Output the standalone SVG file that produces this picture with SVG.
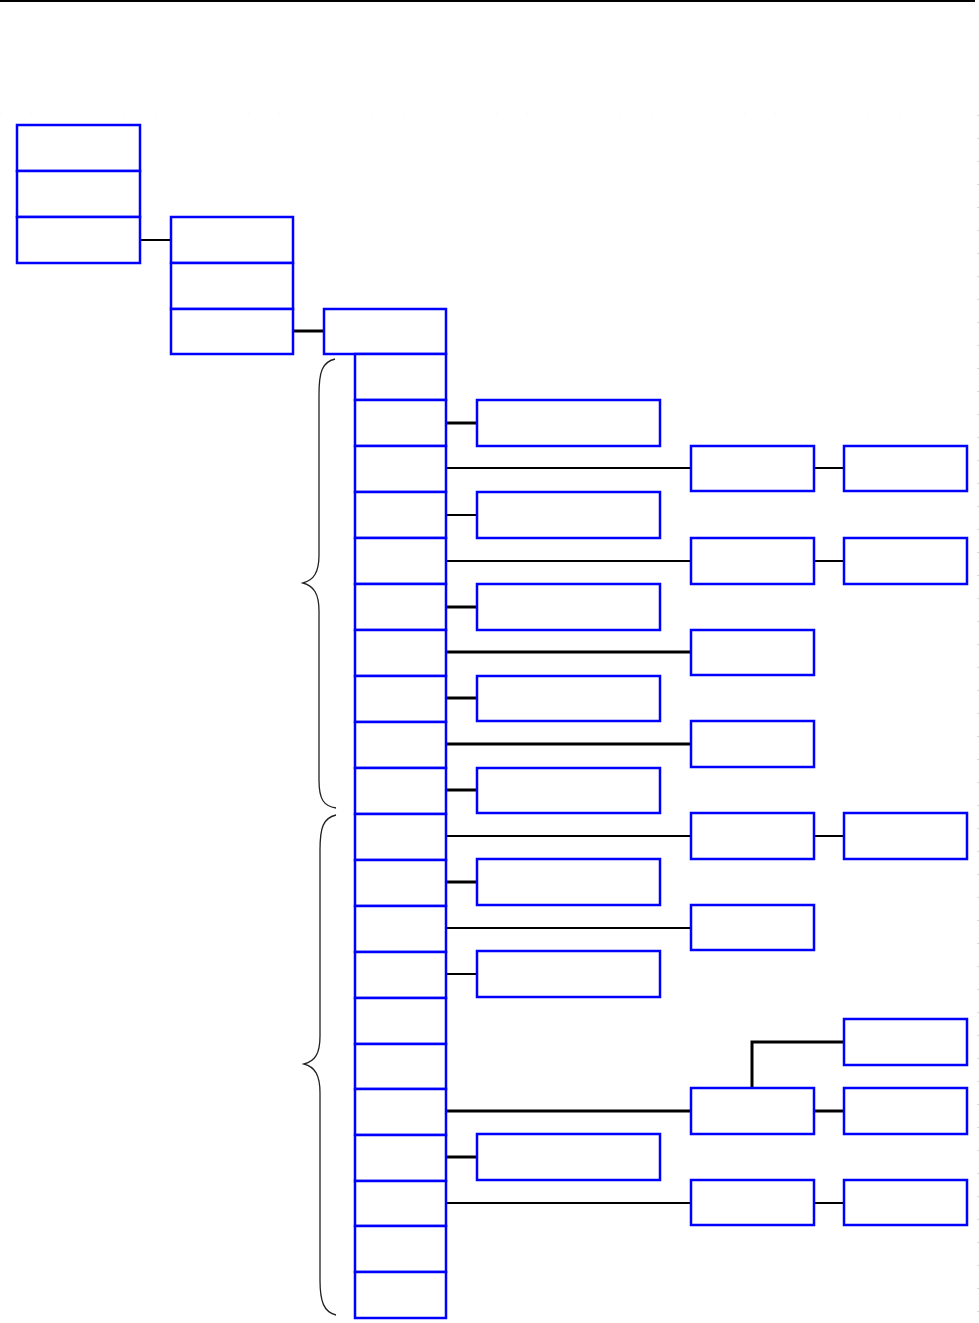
<svg xmlns="http://www.w3.org/2000/svg" width="979" height="1323" viewBox="0 0 979 1323">
<style>
.b{fill:#fff;stroke:#0000ff;stroke-width:2.5}
.c{fill:none;stroke:#000;stroke-width:2}
.t{fill:none;stroke:#000;stroke-width:3}
.br{fill:none;stroke:#222;stroke-width:1.3}
</style>
<rect width="979" height="1323" fill="#fff"/>
<line x1="0" y1="1" x2="975" y2="1" stroke="#000" stroke-width="2"/>
<line x1="0" y1="114" x2="979" y2="114" stroke="#f3f3f3" stroke-width="1" stroke-dasharray="1 30"/>
<line x1="978" y1="115" x2="978" y2="1323" stroke="#bbb" stroke-width="1" stroke-dasharray="1 22"/>
<g id="connectors">
<line class="c" x1="140" y1="240" x2="171" y2="240"/>
<line class="t" x1="293" y1="331" x2="324" y2="331"/>
<line class="t" x1="446" y1="423" x2="477" y2="423"/>
<line class="c" x1="446" y1="468" x2="691" y2="468"/>
<line class="c" x1="814" y1="468" x2="844" y2="468"/>
<line class="c" x1="446" y1="515" x2="477" y2="515"/>
<line class="c" x1="446" y1="561" x2="691" y2="561"/>
<line class="c" x1="814" y1="561" x2="844" y2="561"/>
<line class="t" x1="446" y1="607" x2="477" y2="607"/>
<line class="t" x1="446" y1="652" x2="691" y2="652"/>
<line class="t" x1="446" y1="698" x2="477" y2="698"/>
<line class="t" x1="446" y1="744" x2="691" y2="744"/>
<line class="t" x1="446" y1="790" x2="477" y2="790"/>
<line class="c" x1="446" y1="836" x2="691" y2="836"/>
<line class="c" x1="814" y1="836" x2="844" y2="836"/>
<line class="t" x1="446" y1="882" x2="477" y2="882"/>
<line class="c" x1="446" y1="928" x2="691" y2="928"/>
<line class="c" x1="446" y1="974" x2="477" y2="974"/>
<line class="t" x1="446" y1="1111" x2="691" y2="1111"/>
<line class="t" x1="814" y1="1111" x2="844" y2="1111"/>
<polyline class="t" points="752,1088 752,1042 844,1042"/>
<line class="t" x1="446" y1="1157" x2="477" y2="1157"/>
<line class="c" x1="446" y1="1203" x2="691" y2="1203"/>
<line class="c" x1="814" y1="1203" x2="844" y2="1203"/>
<path class="br" d="M335,359 C322,362 319,372 319,395 L319,555 C319,572 314,580 303,583 C314,586 319,594 319,611 L319,780 C319,800 324,806 336,808"/>
<path class="br" d="M336,815 C323,818 320,828 320,850 L320,1036 C320,1054 315,1061 304,1064 C315,1067 320,1075 320,1093 L320,1280 C320,1302 324,1312 336,1315"/>
</g>
<g id="col1">
<rect class="b" x="17" y="125" width="123" height="46"/>
<rect class="b" x="17" y="171" width="123" height="46"/>
<rect class="b" x="17" y="217" width="123" height="46"/>
</g>
<g id="col2">
<rect class="b" x="171" y="217" width="122" height="46"/>
<rect class="b" x="171" y="263" width="122" height="46"/>
<rect class="b" x="171" y="309" width="122" height="45"/>
</g>
<g id="col3head">
<rect class="b" x="324" y="309" width="122" height="45"/>
</g>
<g id="col3">
<rect class="b" x="355" y="354" width="91" height="46"/>
<rect class="b" x="355" y="400" width="91" height="46"/>
<rect class="b" x="355" y="446" width="91" height="46"/>
<rect class="b" x="355" y="492" width="91" height="46"/>
<rect class="b" x="355" y="538" width="91" height="46"/>
<rect class="b" x="355" y="584" width="91" height="46"/>
<rect class="b" x="355" y="630" width="91" height="46"/>
<rect class="b" x="355" y="676" width="91" height="46"/>
<rect class="b" x="355" y="722" width="91" height="46"/>
<rect class="b" x="355" y="768" width="91" height="46"/>
<rect class="b" x="355" y="814" width="91" height="46"/>
<rect class="b" x="355" y="860" width="91" height="46"/>
<rect class="b" x="355" y="906" width="91" height="46"/>
<rect class="b" x="355" y="952" width="91" height="46"/>
<rect class="b" x="355" y="998" width="91" height="46"/>
<rect class="b" x="355" y="1044" width="91" height="45"/>
<rect class="b" x="355" y="1089" width="91" height="46"/>
<rect class="b" x="355" y="1135" width="91" height="46"/>
<rect class="b" x="355" y="1181" width="91" height="45"/>
<rect class="b" x="355" y="1226" width="91" height="46"/>
<rect class="b" x="355" y="1272" width="91" height="46"/>
</g>
<g id="mid">
<rect class="b" x="477" y="400" width="183" height="46"/>
<rect class="b" x="477" y="492" width="183" height="46"/>
<rect class="b" x="477" y="584" width="183" height="46"/>
<rect class="b" x="477" y="676" width="183" height="45"/>
<rect class="b" x="477" y="768" width="183" height="45"/>
<rect class="b" x="477" y="859" width="183" height="46"/>
<rect class="b" x="477" y="951" width="183" height="46"/>
<rect class="b" x="477" y="1134" width="183" height="46"/>
</g>
<g id="right1">
<rect class="b" x="691" y="446" width="123" height="45"/>
<rect class="b" x="691" y="538" width="123" height="46"/>
<rect class="b" x="691" y="630" width="123" height="45"/>
<rect class="b" x="691" y="721" width="123" height="46"/>
<rect class="b" x="691" y="813" width="123" height="46"/>
<rect class="b" x="691" y="905" width="123" height="45"/>
<rect class="b" x="691" y="1088" width="123" height="46"/>
<rect class="b" x="691" y="1180" width="123" height="45"/>
</g>
<g id="right2">
<rect class="b" x="844" y="446" width="123" height="45"/>
<rect class="b" x="844" y="538" width="123" height="46"/>
<rect class="b" x="844" y="813" width="123" height="46"/>
<rect class="b" x="844" y="1019" width="123" height="46"/>
<rect class="b" x="844" y="1088" width="123" height="46"/>
<rect class="b" x="844" y="1180" width="123" height="45"/>
</g>
</svg>
